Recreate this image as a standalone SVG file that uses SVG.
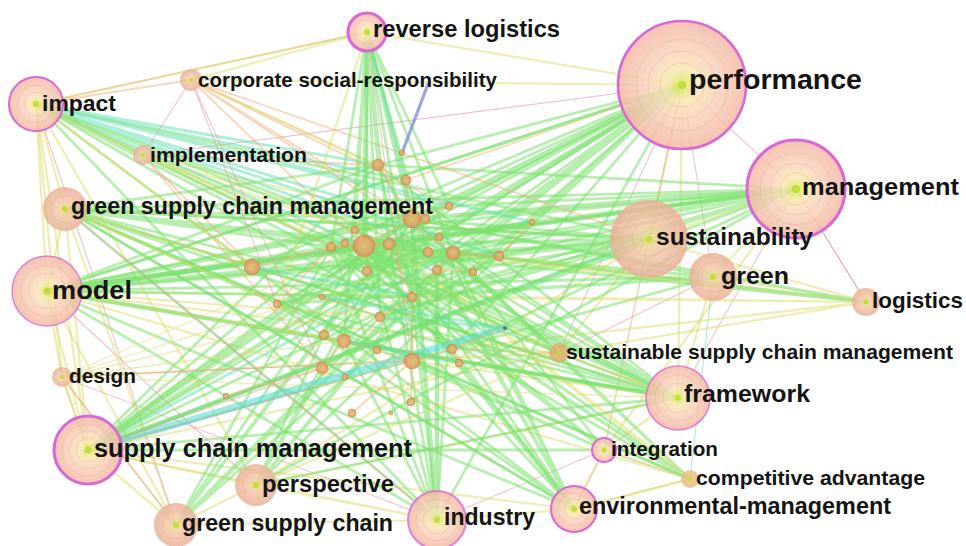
<svg xmlns="http://www.w3.org/2000/svg" width="966" height="546" viewBox="0 0 966 546">
<defs>
  <radialGradient id="tree" cx="50%" cy="50%" r="50%">
    <stop offset="0" stop-color="#bfdc3a"/>
    <stop offset="0.08" stop-color="#e2e874"/>
    <stop offset="0.25" stop-color="#f8e6b0"/>
    <stop offset="0.55" stop-color="#f8d2bc"/>
    <stop offset="1" stop-color="#f3b7a3"/>
  </radialGradient>
  <radialGradient id="treeB" cx="50%" cy="50%" r="50%">
    <stop offset="0" stop-color="#c8dc40"/>
    <stop offset="0.1" stop-color="#ecd890"/>
    <stop offset="0.4" stop-color="#f1c8a8"/>
    <stop offset="1" stop-color="#eaae96"/>
  </radialGradient>
  <radialGradient id="dot" cx="50%" cy="50%" r="50%">
    <stop offset="0" stop-color="#e6c070"/>
    <stop offset="0.6" stop-color="#e5a468"/>
    <stop offset="1" stop-color="#d98c58"/>
  </radialGradient>
  <style>
    .e path{fill:none;stroke-linecap:round}
    .g{stroke:#7ee270;stroke-width:2.8;stroke-opacity:.55}
    .gt{stroke:#72de66;stroke-width:4.4;stroke-opacity:.55}
    .t{stroke:#5ee2b0;stroke-width:2.8;stroke-opacity:.5}
    .c{stroke:#56dcd4;stroke-width:7;stroke-opacity:.6}
    .y{stroke:#dcdc6a;stroke-width:2.2;stroke-opacity:.5}
    .yf{stroke:#e2de86;stroke-width:1.3;stroke-opacity:.6}
    .o{stroke:#efb078;stroke-width:1.8;stroke-opacity:.5}
    .p{stroke:#e99aa6;stroke-width:1.1;stroke-opacity:.6}
    .bl{stroke:#7f8ee0;stroke-width:3.2;stroke-opacity:.8}
    .n{fill:url(#tree);fill-opacity:.84}
    .nb{fill:url(#treeB);fill-opacity:.84}
    .hot{stroke:#d868d8}
    .ring{fill:none;stroke:#e9a48c;stroke-width:.8;stroke-opacity:.45}
    .core{fill:#c4de38}
    .s{fill:url(#dot);fill-opacity:.85;stroke:#d08448;stroke-width:.8;stroke-opacity:.6}
    .lb{font-family:"Liberation Sans",Arial,Helvetica,sans-serif;font-weight:bold;fill:#141414}
  </style>
</defs>
<rect width="966" height="546" fill="#ffffff"/>

<!-- co-occurrence links -->
<g id="links" class="e">
  <!-- performance -->
  <path class="g" d="M682 85L499 256M682 85L378 165M682 85L331 247M682 85L412 297M682 85L380 317M682 85L344 341M682 85L277 304M682 85L449 206M682 85L439 237M682 85L47 291M682 85L252 267M682 85L532 222M682 85L473 272M682 85L453 253M682 85L367 271M682 85L452 349M682 85L324 335"/>
  <path class="gt" d="M682 85L364 246M682 85L412 219M682 85L88 450"/>
  <path class="y" d="M682 85L191 80M682 85L367 32M682 85L649 239M682 85L678 398"/>
  <path class="p" d="M682 85L143 155M682 85L559 353M682 85L713 277M682 85L796 189"/>
  <path class="o" d="M682 85L604 450M682 85L406 180"/>
  <!-- management -->
  <path class="g" d="M796 189L364 246M796 189L453 253M796 189L499 256M796 189L331 247M796 189L412 297M796 189L449 206M796 189L378 165M796 189L380 317M796 189L452 349M796 189L65 209M796 189L428 252M796 189L355 230"/>
  <path class="gt" d="M796 189L412 219M796 189L47 291"/>
  <path class="y" d="M796 189L649 239M796 189L713 277M796 189L604 450"/>
  <path class="p" d="M796 189L866 302M796 189L678 398"/>
  <!-- sustainability -->
  <path class="g" d="M649 239L412 219M649 239L364 246M649 239L453 253M649 239L331 247M649 239L47 291M649 239L65 209M649 239L389 244M649 239L36 104M649 239L277 304M649 239L412 297M649 239L380 317M649 239L367 271"/>
  <path class="t" d="M649 239L88 450"/>
  <path class="y" d="M649 239L559 353M649 239L256 485"/>
  <!-- green -->
  <path class="g" d="M713 277L364 246M713 277L453 253M713 277L412 219M713 277L277 304M713 277L47 291M713 277L412 297M713 277L88 450"/>
  <path class="y" d="M713 277L866 302M713 277L678 398"/>
  <path class="p" d="M713 277L559 353"/>
  <path class="t" style="stroke-width:1.2" d="M713 277L690 479"/>
  <!-- logistics -->
  <path class="y" d="M866 302L649 239M866 302L364 246M866 302L453 253M866 302L499 256M866 302L559 353M866 302L412 297M866 302L452 349M866 302L47 291"/>
  <path class="g" d="M866 302L412 219M866 302L331 247M866 302L389 244"/>
  <path class="p" d="M866 302L796 189"/>
  <!-- sustainable supply chain management -->
  <path class="y" d="M559 353L364 246M559 353L47 291M559 353L62 377M559 353L143 155M559 353L88 450"/>
  <path class="g" d="M559 353L412 219M559 353L331 247"/>
  <path class="o" d="M559 353L452 349M559 353L678 398"/>
  <!-- framework -->
  <path class="g" d="M678 398L412 219M678 398L453 253M678 398L331 247M678 398L412 297M678 398L380 317M678 398L344 341M678 398L277 304M678 398L88 450M678 398L65 209M678 398L36 104M678 398L428 252M678 398L355 230M678 398L378 165"/>
  <path class="gt" d="M678 398L364 246M678 398L47 291"/>
  <path class="y" d="M678 398L559 353M678 398L412 361M678 398L604 450M678 398L256 485"/>
  <!-- integration -->
  <path class="g" d="M604 450L364 246M604 450L412 297M604 450L412 361M604 450L88 450M604 450L453 253M604 450L65 209"/>
  <path class="p" d="M604 450L437 520M604 450L574 509M604 450L690 479"/>
  <!-- competitive advantage -->
  <path class="g" d="M690 479L412 219M690 479L364 246M690 479L331 247M690 479L453 253M690 479L36 104M690 479L65 209M690 479L412 297"/>
  <path class="y" style="stroke-width:3.6" d="M690 479L389 244"/>
  <path class="y" d="M690 479L574 509M690 479L604 450M690 479L47 291"/>
  <!-- environmental-management -->
  <path class="g" d="M574 509L412 219M574 509L331 247M574 509L412 297M574 509L453 253M574 509L277 304M574 509L47 291M574 509L36 104M574 509L65 209M574 509L378 165M574 509L389 244M574 509L439 237"/>
  <path class="gt" d="M574 509L364 246"/>
  <path class="y" d="M574 509L604 450M574 509L437 520M574 509L690 479M574 509L88 450"/>
  <!-- industry -->
  <path class="gt" d="M437 520L437 270M437 520L412 219"/>
  <path class="g" d="M437 520L364 246M437 520L331 247M437 520L412 297M437 520L453 253M437 520L47 291M437 520L36 104M437 520L65 209M437 520L682 85M437 520L344 341M437 520L389 244"/>
  <path class="y" d="M437 520L256 485M437 520L176 525M437 520L88 450"/>
  <path class="p" d="M437 520L62 377"/>
  <!-- perspective -->
  <path class="g" d="M256 485L412 219M256 485L364 246M256 485L453 253M256 485L412 297M256 485L678 398M256 485L796 189M256 485L499 256M256 485L389 244"/>
  <path class="y" d="M256 485L88 450M256 485L176 525M256 485L36 104M256 485L559 353"/>
  <path class="p" d="M256 485L47 291"/>
  <!-- green supply chain -->
  <path class="g" d="M176 525L364 246M176 525L412 219M176 525L331 247M176 525L412 297M176 525L380 317M176 525L682 85M176 525L453 253M176 525L389 244"/>
  <path class="y" d="M176 525L88 450M176 525L62 377M176 525L65 209M176 525L47 291"/>
  <path class="p" d="M176 525L36 104"/>
  <!-- supply chain management -->
  <path class="c" d="M88 450L505 328"/>
  <path class="t" d="M88 450L453 253M380 317L505 328"/>
  <path class="gt" d="M88 450L649 239M88 450L412 219"/>
  <path class="g" d="M88 450L364 246M88 450L331 247M88 450L412 297M88 450L796 189M88 450L499 256M88 450L378 165M88 450L389 244M88 450L428 252M88 450L449 206"/>
  <path class="y" d="M88 450L47 291M88 450L62 377M88 450L65 209M88 450L36 104"/>
  <path class="p" d="M88 450L412 361M88 450L322 368"/>
  <!-- design -->
  <path class="yf" d="M62 377L364 246M62 377L412 297M62 377L559 353M62 377L453 253M62 377L678 398M62 377L344 341"/>
  <path class="y" d="M62 377L47 291M62 377L88 450"/>
  <path class="p" d="M62 377L412 361M62 377L176 525"/>
  <!-- model -->
  <path class="gt" d="M47 291L412 219M47 291L364 246"/>
  <path class="g" d="M47 291L453 253M47 291L331 247M47 291L389 244M47 291L499 256M47 291L649 239M47 291L796 189M47 291L678 398M47 291L682 85M47 291L412 297M47 291L378 165M47 291L428 252M47 291L449 206M47 291L532 222"/>
  <path class="y" d="M47 291L65 209M47 291L36 104M47 291L380 317M47 291L344 341"/>
  <!-- green supply chain management -->
  <path class="g" d="M65 209L412 219M65 209L364 246M65 209L453 253M65 209L331 247M65 209L378 165M65 209L412 297M65 209L380 317M65 209L649 239M65 209L678 398M65 209L690 479M65 209L574 509M65 209L389 244M65 209L428 252"/>
  <path class="y" d="M65 209L36 104M65 209L252 267M65 209L277 304"/>
  <path class="p" d="M65 209L437 520"/>
  <!-- implementation -->
  <path class="y" d="M143 155L412 219M143 155L364 246M143 155L453 253M143 155L389 244M143 155L331 247"/>
  <path class="o" d="M143 155L378 165M143 155L252 267M143 155L322 368"/>
  <path class="p" d="M143 155L36 104"/>
  <!-- impact -->
  <path class="t" d="M36 104L378 165M36 104L412 219M36 104L449 206M36 104L453 253M36 104L499 256M36 104L364 246M36 104L406 180M36 104L532 222"/>
  <path class="g" d="M36 104L412 297M36 104L331 247M36 104L389 244M36 104L428 252"/>
  <path class="y" d="M36 104L62 377M36 104L143 155M36 104L252 267"/>
  <path class="o" d="M36 104L191 80M36 104L367 32"/>
  <!-- corporate social-responsibility -->
  <path class="o" d="M191 80L412 219M191 80L378 165M191 80L364 246M191 80L453 253M191 80L449 206M191 80L649 239"/>
  <path class="y" d="M191 80L367 32M191 80L406 180"/>
  <path class="p" d="M191 80L277 304M191 80L322 368M191 80L143 155"/>
  <!-- reverse logistics -->
  <path class="g" d="M367 32L378 165M367 32L331 247M367 32L453 253M367 32L412 297M367 32L389 244M367 32L380 317M367 32L344 341M367 32L449 206M367 32L428 252M367 32L367 271M367 32L355 230"/>
  <path class="gt" d="M367 32L412 219M367 32L364 246"/>
  <path class="t" d="M367 32L406 180"/>
  <path class="y" d="M367 32L36 104M367 32L277 304"/>
  <path class="p" d="M367 32L412 361"/>
  <path class="bl" d="M402 153L428 84"/>
  <!-- links among the central cluster -->
  <path class="g" d="M331 247L499 256M364 246L452 349M412 219L412 361M378 165L412 297M364 246L505 328M277 304L453 253M322 368L499 256M252 267L532 222M331 247L452 349M412 219L344 341M389 244L473 272"/>
  <path class="t" d="M322 297L505 328M344 341L459 363M252 267L412 297"/>
  <path class="o" d="M378 165L412 219M412 219L364 246M364 246L389 244M389 244L412 297M412 297L412 361M412 361L452 349M344 341L412 361M322 368L344 341M380 317L412 297M437 270L453 253M453 253L499 256M499 256L532 222M331 247L364 246M277 304L331 247M252 267L331 247M322 297L380 317M352 413L412 361M411 402L412 361M226 396L322 368M459 363L452 349M505 328L452 349M449 206L412 219M406 180L412 219M473 272L437 270"/>
</g>

<!-- keyword nodes -->
<g id="node-performance"><circle class="n hot" cx="682" cy="85" r="64" stroke-width="2.6"/><circle class="ring" cx="682" cy="85" r="46"/><circle class="ring" cx="682" cy="85" r="34"/><circle class="ring" cx="682" cy="85" r="22"/><circle class="core" cx="682" cy="85" r="4"/></g>
<g id="node-management"><circle class="n hot" cx="796" cy="189" r="49" stroke-width="3"/><circle class="ring" cx="796" cy="189" r="36"/><circle class="ring" cx="796" cy="189" r="26"/><circle class="ring" cx="796" cy="189" r="16"/><circle class="core" cx="796" cy="189" r="4"/></g>
<g id="node-sustainability"><circle class="nb" cx="649" cy="239" r="39"/><circle class="ring" cx="649" cy="239" r="27"/><circle class="ring" cx="649" cy="239" r="17"/><circle class="core" cx="649" cy="239" r="3"/></g>
<g id="node-green"><circle class="nb" cx="713" cy="277" r="24"/><circle class="ring" cx="713" cy="277" r="15"/><circle class="core" cx="713" cy="277" r="3"/></g>
<g id="node-logistics"><circle class="nb" cx="866" cy="302" r="14"/><circle class="core" cx="866" cy="302" r="2.5"/></g>
<g id="node-sustainable-supply-chain-management"><circle cx="559" cy="353" r="10" fill="#dcb070" fill-opacity=".85"/><circle class="core" cx="559" cy="353" r="2"/></g>
<g id="node-framework"><circle class="n hot" cx="678" cy="398" r="32" stroke-width="1.6" stroke-opacity=".8"/><circle class="ring" cx="678" cy="398" r="23"/><circle class="ring" cx="678" cy="398" r="15"/><circle class="core" cx="678" cy="398" r="3"/></g>
<g id="node-integration"><circle class="n hot" cx="604" cy="450" r="12" stroke-width="2"/><circle class="core" cx="604" cy="450" r="2.5"/></g>
<g id="node-competitive-advantage"><circle cx="690" cy="479" r="9" fill="#e8c080" fill-opacity=".85"/><circle class="core" cx="690" cy="479" r="2"/></g>
<g id="node-environmental-management"><circle class="n hot" cx="574" cy="509" r="23" stroke-width="2"/><circle class="ring" cx="574" cy="509" r="16"/><circle class="ring" cx="574" cy="509" r="10"/><circle class="core" cx="574" cy="509" r="3"/></g>
<g id="node-industry"><circle class="n hot" cx="437" cy="520" r="29" stroke-width="2" stroke-opacity=".8"/><circle class="ring" cx="437" cy="520" r="21"/><circle class="ring" cx="437" cy="520" r="14"/><circle class="core" cx="437" cy="520" r="3"/></g>
<g id="node-perspective"><circle class="nb" cx="256" cy="485" r="21"/><circle class="ring" cx="256" cy="485" r="13"/><circle class="core" cx="256" cy="485" r="3"/></g>
<g id="node-green-supply-chain"><circle class="nb" cx="176" cy="525" r="22"/><circle class="ring" cx="176" cy="525" r="14"/><circle class="core" cx="176" cy="525" r="3"/></g>
<g id="node-supply-chain-management"><circle class="n hot" cx="88" cy="450" r="34" stroke-width="3"/><circle class="ring" cx="88" cy="450" r="26"/><circle class="ring" cx="88" cy="450" r="19"/><circle class="ring" cx="88" cy="450" r="12"/><circle class="core" cx="88" cy="450" r="3.5"/></g>
<g id="node-design"><circle class="nb" cx="62" cy="377" r="10"/><circle class="core" cx="62" cy="377" r="2"/></g>
<g id="node-model"><circle class="n hot" cx="47" cy="291" r="35" stroke-width="1.4" stroke-opacity=".8"/><circle class="ring" cx="47" cy="291" r="26"/><circle class="ring" cx="47" cy="291" r="18"/><circle class="core" cx="47" cy="291" r="3.5"/></g>
<g id="node-green-supply-chain-management"><circle class="nb" cx="65" cy="209" r="22"/><circle class="ring" cx="65" cy="209" r="14"/><circle class="core" cx="65" cy="209" r="3"/></g>
<g id="node-implementation"><circle class="nb" cx="143" cy="155" r="10"/><circle class="core" cx="143" cy="155" r="2"/></g>
<g id="node-impact"><circle class="n hot" cx="36" cy="104" r="27" stroke-width="2"/><circle class="ring" cx="36" cy="104" r="19"/><circle class="ring" cx="36" cy="104" r="12"/><circle class="core" cx="36" cy="104" r="3"/></g>
<g id="node-corporate-social-responsibility"><circle class="nb" cx="191" cy="80" r="11"/><circle class="core" cx="191" cy="80" r="2"/></g>
<g id="node-reverse-logistics"><circle class="n hot" cx="367" cy="32" r="19" stroke-width="3"/><circle class="ring" cx="367" cy="32" r="12"/><circle class="core" cx="367" cy="32" r="3"/></g>

<!-- unlabelled keywords in the central cluster -->
<g id="minor-nodes">
  <circle class="s" cx="378" cy="165" r="6"/>
  <circle class="s" cx="402" cy="153" r="3"/>
  <circle class="s" cx="406" cy="180" r="5"/>
  <circle class="s" cx="412" cy="219" r="9" stroke="#c968c9" stroke-width="2" stroke-opacity=".9"/>
  <circle class="s" cx="425" cy="219" r="5"/>
  <circle class="s" cx="364" cy="246" r="11" stroke="#c968c9" stroke-width="2" stroke-opacity=".9"/>
  <circle class="s" cx="331" cy="247" r="5"/>
  <circle class="s" cx="345" cy="243" r="4"/>
  <circle class="s" cx="355" cy="230" r="4"/>
  <circle class="s" cx="389" cy="244" r="6"/>
  <circle class="s" cx="367" cy="271" r="5"/>
  <circle class="s" cx="437" cy="270" r="5"/>
  <circle class="s" cx="428" cy="252" r="5"/>
  <circle class="s" cx="439" cy="237" r="4"/>
  <circle class="s" cx="453" cy="253" r="7"/>
  <circle class="s" cx="449" cy="206" r="4"/>
  <circle class="s" cx="499" cy="256" r="5"/>
  <circle class="s" cx="473" cy="272" r="4"/>
  <circle class="s" cx="532" cy="222" r="3"/>
  <circle class="s" cx="252" cy="267" r="8"/>
  <circle class="s" cx="277" cy="304" r="4"/>
  <circle class="s" cx="322" cy="297" r="3"/>
  <circle class="s" cx="380" cy="317" r="5"/>
  <circle class="s" cx="412" cy="297" r="5"/>
  <circle class="s" cx="344" cy="341" r="7"/>
  <circle class="s" cx="324" cy="335" r="5"/>
  <circle class="s" cx="377" cy="350" r="4"/>
  <circle class="s" cx="412" cy="361" r="8"/>
  <circle class="s" cx="452" cy="349" r="5"/>
  <circle class="s" cx="459" cy="363" r="4"/>
  <circle class="s" cx="322" cy="368" r="6"/>
  <circle class="s" cx="345" cy="377" r="3"/>
  <circle class="s" cx="226" cy="396" r="3"/>
  <circle class="s" cx="411" cy="402" r="4"/>
  <circle class="s" cx="352" cy="413" r="4"/>
  <circle class="s" cx="391" cy="413" r="2"/>
  <circle cx="505" cy="328" r="2" fill="#5a7a70"/>
</g>

<!-- keyword labels -->
<g id="labels" class="lb">
  <text x="373" y="37" font-size="23.5" textLength="187" lengthAdjust="spacingAndGlyphs">reverse logistics</text>
  <text x="198" y="87" font-size="21" textLength="299" lengthAdjust="spacingAndGlyphs">corporate social-responsibility</text>
  <text x="42" y="111" font-size="22.5" textLength="74" lengthAdjust="spacingAndGlyphs">impact</text>
  <text x="150" y="162" font-size="21" textLength="157" lengthAdjust="spacingAndGlyphs">implementation</text>
  <text x="71" y="214" font-size="23" textLength="362" lengthAdjust="spacingAndGlyphs">green supply chain management</text>
  <text x="52" y="299" font-size="26" textLength="80" lengthAdjust="spacingAndGlyphs">model</text>
  <text x="69" y="383" font-size="20" textLength="67" lengthAdjust="spacingAndGlyphs">design</text>
  <text x="94" y="457" font-size="25" textLength="318" lengthAdjust="spacingAndGlyphs">supply chain management</text>
  <text x="262" y="492" font-size="23" textLength="132" lengthAdjust="spacingAndGlyphs">perspective</text>
  <text x="182" y="531" font-size="23" textLength="211" lengthAdjust="spacingAndGlyphs">green supply chain</text>
  <text x="444" y="525" font-size="23" textLength="91" lengthAdjust="spacingAndGlyphs">industry</text>
  <text x="579" y="514" font-size="23" textLength="312" lengthAdjust="spacingAndGlyphs">environmental-management</text>
  <text x="696" y="485" font-size="20.5" textLength="229" lengthAdjust="spacingAndGlyphs">competitive advantage</text>
  <text x="611" y="456" font-size="20.5" textLength="107" lengthAdjust="spacingAndGlyphs">integration</text>
  <text x="684" y="402" font-size="24.5" textLength="126" lengthAdjust="spacingAndGlyphs">framework</text>
  <text x="566" y="359" font-size="20.5" textLength="387" lengthAdjust="spacingAndGlyphs">sustainable supply chain management</text>
  <text x="872" y="308" font-size="22" textLength="91" lengthAdjust="spacingAndGlyphs">logistics</text>
  <text x="721" y="284" font-size="24" textLength="68" lengthAdjust="spacingAndGlyphs">green</text>
  <text x="656" y="245" font-size="24" textLength="157" lengthAdjust="spacingAndGlyphs">sustainability</text>
  <text x="802" y="195" font-size="24.5" textLength="157" lengthAdjust="spacingAndGlyphs">management</text>
  <text x="689" y="89" font-size="28" textLength="173" lengthAdjust="spacingAndGlyphs">performance</text>
</g>
</svg>
